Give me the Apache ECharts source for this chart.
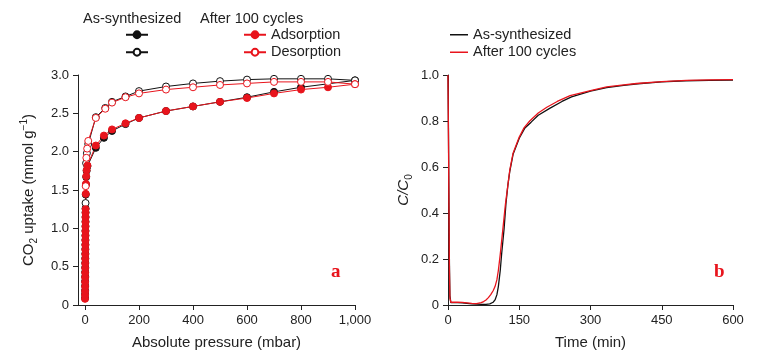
<!DOCTYPE html>
<html>
<head>
<meta charset="utf-8">
<script src="https://cdn.jsdelivr.net/npm/echarts@6/dist/echarts.min.js"></script>
<style>
html,body{margin:0;padding:0;background:#fff;}
#chart{width:780px;height:358px;}
</style>
</head>
<body>
<div id="chart"></div>
<script>
// ---------- Panel a: CO2 isotherms ----------
var asAdsP = [0.1,0.2,0.3,0.4,0.5,0.6,0.7,0.8,0.9,1.0,1.1,1.2,1.3,1.4,1.5,1.6,1.7,1.8,1.9,2.0,2.1,2.8,3.5,4.5,6,9,40,70,100,150,200,300,400,500,600,700,800,1000];
var asAdsV = [0.09,0.14,0.19,0.25,0.31,0.37,0.43,0.49,0.55,0.61,0.67,0.73,0.79,0.85,0.91,0.97,1.03,1.09,1.15,1.21,1.26,1.44,1.57,1.67,1.75,1.81,2.05,2.18,2.27,2.36,2.44,2.53,2.59,2.65,2.71,2.78,2.84,2.93];
var asDesP = [1000,900,800,700,600,500,400,300,200,150,100,75,40,12,7,4,2];
var asDesV = [2.93,2.95,2.95,2.95,2.94,2.92,2.89,2.85,2.79,2.72,2.65,2.57,2.45,2.10,1.98,1.85,1.33];
var acAdsP = [0.1,0.2,0.3,0.4,0.5,0.6,0.7,0.8,0.9,1.0,1.1,1.2,1.3,1.4,1.5,1.6,1.7,1.8,1.9,2.0,2.1,2.8,3.5,4.5,6,9,40,70,100,150,200,300,400,500,600,700,800,900,1000];
var acAdsV = [0.08,0.13,0.18,0.24,0.30,0.36,0.42,0.48,0.54,0.60,0.66,0.72,0.78,0.84,0.90,0.96,1.02,1.08,1.14,1.20,1.25,1.45,1.58,1.68,1.76,1.82,2.08,2.21,2.29,2.37,2.44,2.53,2.59,2.65,2.70,2.76,2.81,2.84,2.88];
var acDesP = [1000,900,800,700,600,500,400,300,200,150,100,75,40,12,8,5,2.5];
var acDesV = [2.88,2.91,2.91,2.91,2.89,2.87,2.84,2.81,2.76,2.71,2.64,2.56,2.44,2.14,2.04,1.92,1.55];
var pressureTicks = [0,200,400,600,800,1000];
var pressureTickLabels = ['0','200','400','600','800','1,000'];
var uptakeTickLabels = ['0','0.5','1.0','1.5','2.0','2.5','3.0'];

// ---------- Panel b: breakthrough curves ----------
var timeAS = [0,1,2,3,4,6,10,20,30,40,50,60,70,80,88,95,99,103,106,110,113,118,122,126,130,137,150,162,175,190,214,240,260,300,334,370,400,450,500,550,600];
var cAS = [1.0,0.75,0.45,0.18,0.04,0.01,0.008,0.01,0.009,0.007,0.005,0.004,0.003,0.003,0.005,0.012,0.022,0.045,0.08,0.15,0.224,0.33,0.44,0.52,0.58,0.655,0.725,0.77,0.795,0.825,0.855,0.885,0.905,0.93,0.945,0.955,0.962,0.97,0.975,0.977,0.978];
var timeAC = [0,1,2,3,4,6,10,20,30,40,50,60,70,75,80,85,90,95,99,103,106,110,114,118,121,126,130,137,150,160,172,190,208,230,257,300,334,370,397,450,502,550,600];
var cAC = [1.0,0.72,0.42,0.15,0.03,0.012,0.01,0.012,0.011,0.009,0.007,0.006,0.01,0.015,0.022,0.032,0.045,0.062,0.08,0.11,0.15,0.22,0.30,0.38,0.44,0.52,0.586,0.66,0.73,0.77,0.80,0.835,0.86,0.885,0.91,0.932,0.948,0.957,0.963,0.971,0.977,0.979,0.98];
var ratioTickLabels = ['0','0.2','0.4','0.6','0.8','1.0'];

var RED = '#e8141c', BLK = '#111111', AX = '#222222';
var FONT = '"Liberation Sans", Arial, Helvetica, sans-serif';

function pairs(xs, ys){ return xs.map(function(x,i){ return [x, ys[i]]; }); }

function markerSeries(name, xs, ys, color, filled){
  return {
    name: name, type: 'line', xAxisIndex: 0, yAxisIndex: 0,
    data: pairs(xs, ys), symbol: 'circle', symbolSize: 7, showSymbol: true,
    lineStyle: {color: color, width: 1},
    itemStyle: {color: filled ? color : '#ffffff', borderColor: color, borderWidth: 1},
    emphasis: {disabled: true}, silent: true
  };
}
function curveSeries(name, xs, ys, color){
  return {
    name: name, type: 'line', xAxisIndex: 1, yAxisIndex: 1,
    data: pairs(xs, ys), symbol: 'none', showSymbol: false,
    lineStyle: {color: color, width: 1.3},
    itemStyle: {color: color},
    emphasis: {disabled: true}, silent: true
  };
}

var axisCommon = {
  axisLine: {show: true, onZero: false, lineStyle: {color: AX, width: 1}},
  axisTick: {show: true, length: 5, lineStyle: {color: AX}},
  splitLine: {show: false}
};

var chart = echarts.init(document.getElementById('chart'), null, {renderer: 'canvas'});
chart.setOption({
  animation: false,
  textStyle: {fontFamily: FONT},
  grid: [
    {left: 78, top: 75, width: 277, height: 230},
    {left: 448, top: 75, width: 285, height: 230}
  ],
  xAxis: [
    Object.assign({}, axisCommon, {
      gridIndex: 0, type: 'value', min: -26, max: 1000,
      axisTick: {show: true, length: 5, lineStyle: {color: AX}, customValues: pressureTicks},
      axisLabel: {customValues: pressureTicks, margin: 9, fontSize: 13, color: AX, fontFamily: FONT,
        formatter: function(v){ var i = pressureTicks.indexOf(v); return i >= 0 ? pressureTickLabels[i] : ''; }},
      name: 'Absolute pressure (mbar)', nameLocation: 'middle', nameGap: 30,
      nameTextStyle: {fontSize: 15, color: AX, fontFamily: FONT}
    }),
    Object.assign({}, axisCommon, {
      gridIndex: 1, type: 'value', min: 0, max: 600, interval: 150,
      axisLabel: {margin: 9, fontSize: 13, color: AX, fontFamily: FONT},
      name: 'Time (min)', nameLocation: 'middle', nameGap: 30,
      nameTextStyle: {fontSize: 15, color: AX, fontFamily: FONT}
    })
  ],
  yAxis: [
    Object.assign({}, axisCommon, {
      gridIndex: 0, type: 'value', min: 0, max: 3, interval: 0.5,
      axisLabel: {margin: 9, fontSize: 13, color: AX, fontFamily: FONT,
        formatter: function(v){ return uptakeTickLabels[Math.round(v / 0.5)]; }},
      name: '{m|CO}{sub|2}{m| uptake (mmol g}{sup|−1}{m|)}', nameLocation: 'middle', nameGap: 39,
      nameTextStyle: {color: AX, fontFamily: FONT, fontSize: 15,
        rich: {
          m: {fontSize: 15, color: AX, fontFamily: FONT, lineHeight: 20},
          sub: {fontSize: 10, color: AX, fontFamily: FONT, lineHeight: 10, verticalAlign: 'bottom'},
          sup: {fontSize: 10, color: AX, fontFamily: FONT, lineHeight: 10, verticalAlign: 'top'}
        }}
    }),
    Object.assign({}, axisCommon, {
      gridIndex: 1, type: 'value', min: 0, max: 1, interval: 0.2,
      axisLabel: {margin: 9, fontSize: 13, color: AX, fontFamily: FONT,
        formatter: function(v){ return ratioTickLabels[Math.round(v / 0.2)]; }},
      name: '{i|C/C}{sub|0}', nameLocation: 'middle', nameGap: 34,
      nameTextStyle: {color: AX, fontFamily: FONT, fontSize: 15,
        rich: {
          i: {fontSize: 15, fontStyle: 'italic', color: AX, fontFamily: FONT, lineHeight: 20},
          sub: {fontSize: 10, color: AX, fontFamily: FONT, lineHeight: 10, verticalAlign: 'bottom'}
        }}
    })
  ],
  legend: [
    {data: ['As-synthesized adsorption', 'As-synthesized desorption'], left: 125, top: 26, orient: 'vertical',
      padding: 0, itemWidth: 22, itemHeight: 8.5, itemGap: 0, selectedMode: false,
      formatter: function(){ return ' '; }, textStyle: {fontSize: 14.5, lineHeight: 17.5, color: AX, fontFamily: FONT}},
    {data: ['Adsorption', 'Desorption'], left: 243, top: 26, orient: 'vertical',
      padding: 0, itemWidth: 22, itemHeight: 8.5, itemGap: 0, selectedMode: false,
      textStyle: {fontSize: 14.5, lineHeight: 17.5, color: AX, fontFamily: FONT}},
    {data: ['As-synthesized', 'After 100 cycles'], left: 450, top: 26, orient: 'vertical',
      padding: 0, icon: 'rect', itemWidth: 18, itemHeight: 1.5, itemGap: 0, selectedMode: false,
      textStyle: {fontSize: 14.5, lineHeight: 17.5, color: AX, fontFamily: FONT}}
  ],
  graphic: [
    {type: 'text', x: 83, y: 19, silent: true, style: {text: 'As-synthesized', fontSize: 14.5, fontFamily: FONT, fill: AX, verticalAlign: 'middle', textVerticalAlign: 'middle'}},
    {type: 'text', x: 200, y: 19, silent: true, style: {text: 'After 100 cycles', fontSize: 14.5, fontFamily: FONT, fill: AX, verticalAlign: 'middle', textVerticalAlign: 'middle'}},
    {type: 'text', x: 331, y: 282, silent: true, style: {text: 'a', fontSize: 19, fontWeight: 'bold', fontFamily: '"Liberation Serif", "Times New Roman", serif', fill: RED, verticalAlign: 'bottom', textVerticalAlign: 'bottom'}},
    {type: 'text', x: 714, y: 282, silent: true, style: {text: 'b', fontSize: 19, fontWeight: 'bold', fontFamily: '"Liberation Serif", "Times New Roman", serif', fill: RED, verticalAlign: 'bottom', textVerticalAlign: 'bottom'}}
  ],
  series: [
    markerSeries('As-synthesized adsorption', asAdsP, asAdsV, BLK, true),
    markerSeries('As-synthesized desorption', asDesP, asDesV, BLK, false),
    markerSeries('Adsorption', acAdsP, acAdsV, RED, true),
    markerSeries('Desorption', acDesP, acDesV, RED, false),
    curveSeries('As-synthesized', timeAS, cAS, BLK),
    curveSeries('After 100 cycles', timeAC, cAC, RED)
  ]
});
</script>
</body>
</html>
